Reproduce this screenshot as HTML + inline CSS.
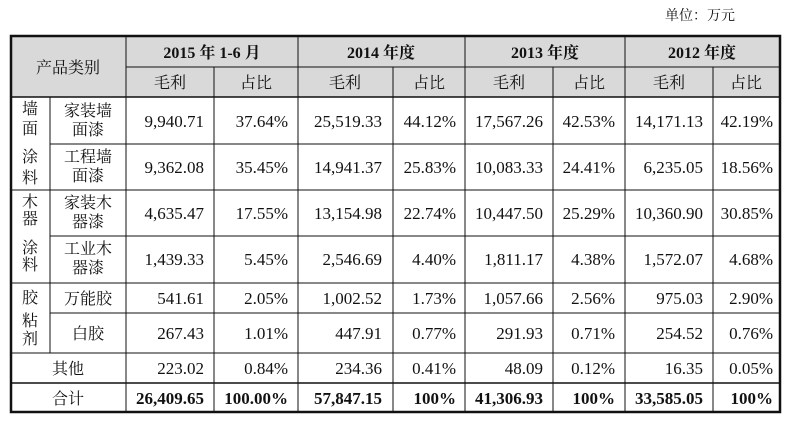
<!DOCTYPE html>
<html><head><meta charset="utf-8"><style>
body{margin:0;background:#fff;width:793px;height:421px;overflow:hidden}
svg text{font-family:"Liberation Serif","Noto Serif CJK SC",serif;fill:#111}
.c{font-family:"Liberation Serif","Noto Serif CJK SC",serif;font-size:16px}
.n{font-size:17px;text-anchor:end}
.b{font-weight:bold}
</style></head><body>
<svg width="793" height="421" xmlns="http://www.w3.org/2000/svg">
<text x="700" y="20" class="c" style="font-size:14px" text-anchor="middle">单位：万元</text>
<rect x="11" y="36" width="769" height="61" fill="#d9d9d9"/>
<g stroke="#111" stroke-width="1">
<line x1="126" y1="67" x2="780" y2="67"/>
<line x1="11" y1="97" x2="780" y2="97" stroke-width="1.5"/>
<line x1="50" y1="144" x2="780" y2="144"/>
<line x1="11" y1="190" x2="780" y2="190"/>
<line x1="50" y1="236" x2="780" y2="236"/>
<line x1="11" y1="283" x2="780" y2="283"/>
<line x1="50" y1="313" x2="780" y2="313"/>
<line x1="11" y1="353" x2="780" y2="353"/>
<line x1="11" y1="383" x2="780" y2="383" stroke-width="1.5"/>
<line x1="50" y1="97" x2="50" y2="353"/>
<line x1="126" y1="36" x2="126" y2="412"/>
<line x1="214" y1="67" x2="214" y2="412"/>
<line x1="298" y1="36" x2="298" y2="412"/>
<line x1="393" y1="67" x2="393" y2="412"/>
<line x1="465" y1="36" x2="465" y2="412"/>
<line x1="553" y1="67" x2="553" y2="412"/>
<line x1="625" y1="36" x2="625" y2="412"/>
<line x1="713" y1="67" x2="713" y2="412"/>
</g>
<rect x="11" y="36" width="769" height="376" fill="none" stroke="#111" stroke-width="2.5"/>
<g class="c" text-anchor="middle">
<text x="68" y="73">产品类别</text>
<text x="170" y="88">毛利</text><text x="256" y="88">占比</text>
<text x="345" y="88">毛利</text><text x="429" y="88">占比</text>
<text x="509" y="88">毛利</text><text x="589" y="88">占比</text>
<text x="669" y="88">毛利</text><text x="746" y="88">占比</text>
</g>
<g class="b" text-anchor="middle" style="font-size:16px">
<text x="212" y="58">2015 年 1-6 月</text>
<text x="381" y="58">2014 年度</text>
<text x="545" y="58">2013 年度</text>
<text x="702" y="58">2012 年度</text>
</g>
<g class="c" text-anchor="middle">
<text x="30" y="114">墙</text><text x="30" y="134">面</text><text x="30" y="162">涂</text><text x="30" y="183">料</text>
<text x="30" y="207">木</text><text x="30" y="224">器</text><text x="30" y="253">涂</text><text x="30" y="270">料</text>
<text x="30" y="303">胶</text><text x="30" y="326">粘</text><text x="30" y="344">剂</text>
<text x="88" y="116">家装墙</text><text x="88" y="135">面漆</text>
<text x="88" y="162">工程墙</text><text x="88" y="181">面漆</text>
<text x="88" y="208">家装木</text><text x="88" y="227">器漆</text>
<text x="88" y="254">工业木</text><text x="88" y="273">器漆</text>
<text x="88" y="304">万能胶</text>
<text x="88" y="339">白胶</text>
<text x="68" y="374">其他</text>
<text x="68" y="404">合计</text>
</g>
<g class="n">
<text x="204" y="127">9,940.71</text><text x="288" y="127">37.64%</text><text x="382" y="127">25,519.33</text><text x="456" y="127">44.12%</text><text x="543" y="127">17,567.26</text><text x="615" y="127">42.53%</text><text x="703" y="127">14,171.13</text><text x="773" y="127">42.19%</text>
<text x="204" y="173">9,362.08</text><text x="288" y="173">35.45%</text><text x="382" y="173">14,941.37</text><text x="456" y="173">25.83%</text><text x="543" y="173">10,083.33</text><text x="615" y="173">24.41%</text><text x="703" y="173">6,235.05</text><text x="773" y="173">18.56%</text>
<text x="204" y="219">4,635.47</text><text x="288" y="219">17.55%</text><text x="382" y="219">13,154.98</text><text x="456" y="219">22.74%</text><text x="543" y="219">10,447.50</text><text x="615" y="219">25.29%</text><text x="703" y="219">10,360.90</text><text x="773" y="219">30.85%</text>
<text x="204" y="265">1,439.33</text><text x="288" y="265">5.45%</text><text x="382" y="265">2,546.69</text><text x="456" y="265">4.40%</text><text x="543" y="265">1,811.17</text><text x="615" y="265">4.38%</text><text x="703" y="265">1,572.07</text><text x="773" y="265">4.68%</text>
<text x="204" y="304">541.61</text><text x="288" y="304">2.05%</text><text x="382" y="304">1,002.52</text><text x="456" y="304">1.73%</text><text x="543" y="304">1,057.66</text><text x="615" y="304">2.56%</text><text x="703" y="304">975.03</text><text x="773" y="304">2.90%</text>
<text x="204" y="339">267.43</text><text x="288" y="339">1.01%</text><text x="382" y="339">447.91</text><text x="456" y="339">0.77%</text><text x="543" y="339">291.93</text><text x="615" y="339">0.71%</text><text x="703" y="339">254.52</text><text x="773" y="339">0.76%</text>
<text x="204" y="374">223.02</text><text x="288" y="374">0.84%</text><text x="382" y="374">234.36</text><text x="456" y="374">0.41%</text><text x="543" y="374">48.09</text><text x="615" y="374">0.12%</text><text x="703" y="374">16.35</text><text x="773" y="374">0.05%</text>
</g>
<g class="n b">
<text x="204" y="404">26,409.65</text><text x="288" y="404">100.00%</text><text x="382" y="404">57,847.15</text><text x="456" y="404">100%</text><text x="543" y="404">41,306.93</text><text x="615" y="404">100%</text><text x="703" y="404">33,585.05</text><text x="773" y="404">100%</text>
</g>
</svg>
</body></html>
